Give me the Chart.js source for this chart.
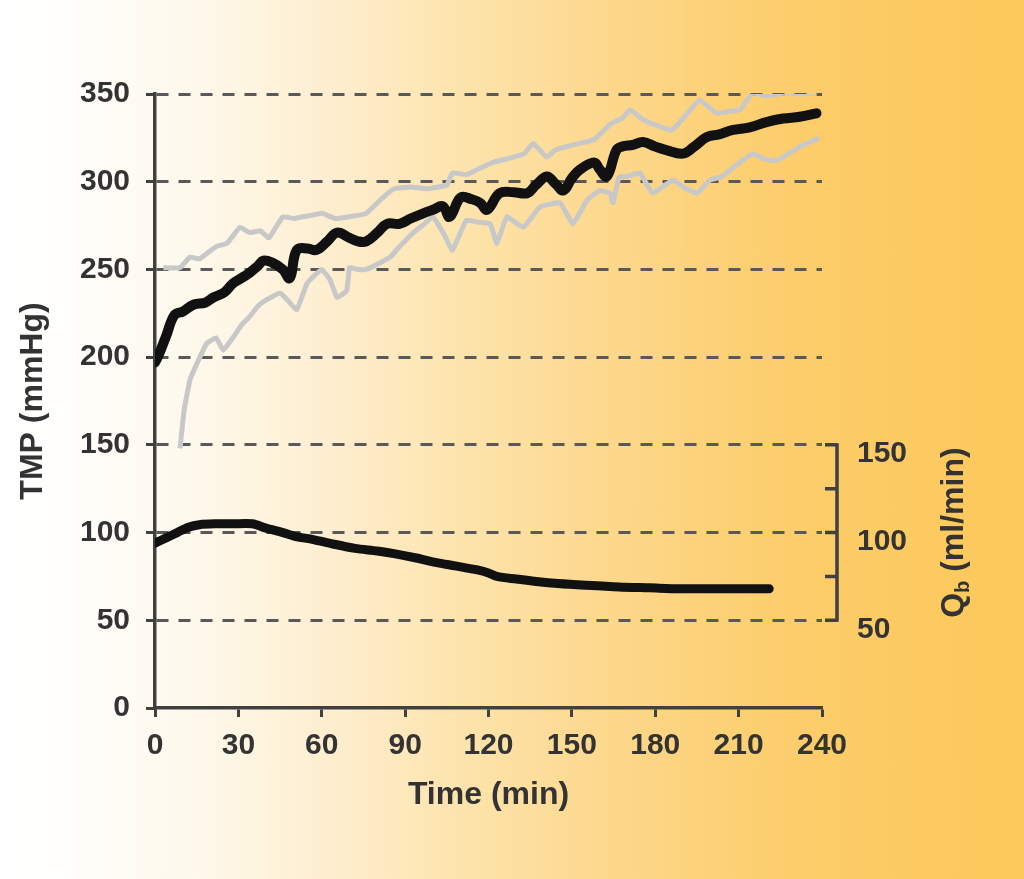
<!DOCTYPE html>
<html>
<head>
<meta charset="utf-8">
<script src="https://cdn.jsdelivr.net/npm/chart.js@4/dist/chart.umd.min.js"></script>
<style>
  html, body { margin: 0; padding: 0; }
  body {
    width: 1024px; height: 879px; overflow: hidden;
    background: linear-gradient(to right,
      #ffffff 0%, #fffefb 7%, #fef8ea 20%, #feefd2 31%, #fde4ad 45%,
      #fdd98f 58%, #fcce6e 75%, #fcca60 90%, #fbc85a 100%);
  }
  canvas { display: block; }
</style>
</head>
<body>
<canvas id="chart" width="1024" height="879"></canvas>
<script>
// Time axis (minutes) and TMP axis (mmHg)
const timeTicks = [0, 30, 60, 90, 120, 150, 180, 210, 240];
const tmpTicks = [0, 50, 100, 150, 200, 250, 300, 350];
// Blood flow axis Qb (ml/min), drawn on the right
const qbTickLabels = [50, 100, 150];
const qbMinorTicks = [50, 75, 100, 125, 150];

// Mean TMP
const tmpMeanTime = [0, 1, 4, 7, 10, 14, 18, 21, 25, 28, 31, 34, 37, 39, 42, 46, 48.5, 51, 55, 58,
  62, 65.5, 70, 73, 76, 80, 83.5, 88, 92, 96.5, 100, 103.6, 106, 110, 114, 117, 119.5, 124, 129, 134,
  137, 141, 144, 147, 150, 153, 158, 160, 162.6, 166, 168, 172, 175.6, 180, 184, 190, 194, 198.6, 203,
  208, 214, 220, 226, 232, 238];
const tmpMeanValue = [197, 200, 212, 224, 226, 230, 231, 234, 237, 242, 245, 248, 252, 255, 254, 250, 245, 261, 262, 261,
  266, 271, 268, 266, 266, 271, 276, 276, 279, 282, 284, 286, 280, 291, 290, 288, 284, 293.5, 294, 293.5,
  298, 303, 299, 295, 302, 307, 311, 307, 303, 318, 320, 321, 322.6, 320, 318, 316, 320, 325.5, 327,
  329.5, 331, 334, 336, 337, 339];

// Upper TMP envelope
const tmpUpperTime = [3, 9, 12.6, 16, 22, 26, 30.6, 34, 38, 41, 46, 50, 53, 57, 60, 65, 70, 76, 82, 86,
  92, 98, 105, 107, 112, 116, 121.6, 129, 133, 136, 141, 144, 148, 153, 158, 164, 168, 171, 175, 179,
  186, 191, 196, 202, 206, 210.5, 215, 220, 227, 232, 238];
const tmpUpperValue = [251, 251, 257, 256, 263, 265, 274, 271, 272, 268, 280, 279, 280, 281, 282, 279, 280, 282, 291, 296,
  297, 296, 298, 305, 304, 307, 311, 314, 316, 322, 314, 318, 320, 322, 324, 333, 336, 341, 336, 333,
  329.5, 338, 346.6, 339, 340, 341, 350.5, 349, 350.5, 350, 350.5];

// Lower TMP envelope
const tmpLowerTime = [9, 10.5, 12.6, 15, 18.7, 22, 24.5, 28, 31, 34, 37, 40, 45, 48, 51, 54.7, 57, 60, 63, 65.5,
  69, 70, 73, 76, 80, 84.6, 88, 93, 97, 100, 104, 107, 112, 116, 120.6, 123, 126.6, 132.5, 138.5, 145.7,
  150.4, 155.5, 160, 163.7, 164.8, 167, 170, 174.5, 179, 186.4, 190, 195, 199.7, 204, 208, 215, 219, 223.8,
  228, 232, 239];
const tmpLowerValue = [148, 170, 187, 196, 208, 211, 204, 211, 218, 223, 229, 232.6, 236.5, 232, 227, 242, 246, 250, 244, 234,
  238, 251, 250, 250, 253, 257, 263, 271, 276, 280, 270, 261, 278, 277, 276, 265, 280, 274, 285.6, 288,
  276, 289.6, 295, 293.5, 288, 302.7, 303, 305, 293.5, 301, 297, 293.5, 301, 303, 308, 316, 313, 312,
  316, 320, 325];

// Blood flow Qb
const qbTime = [0, 4, 8, 12, 16, 22, 28, 35, 40, 46, 50, 57, 64, 72, 80, 86, 94, 101, 108, 116,
  120, 123, 130, 138, 145, 155, 167, 178, 189, 200, 210, 221];
const qbValue = [94, 97, 100, 103, 104.5, 105, 105, 105, 102.5, 100, 98, 96, 93.5, 91, 89.5, 88, 85.5, 83, 81, 78.7,
  77, 75, 73.5, 72, 71, 70, 69, 68.5, 68, 68, 68, 68];

const toPoints = (xs, ys) => xs.map((x, i) => ({ x, y: ys[i] }));

const FONT = "'Liberation Sans', Arial, Helvetica, sans-serif";
const TEXT = '#333333';
const AXIS = '#404040';
const tickFont = { family: FONT, size: 30, weight: 'bold' };
const titleFont = { family: FONT, size: 32, weight: 'bold' };

// Right-hand Qb axis: partial axis line with inward ticks and a rotated title with subscript
const qbAxisPlugin = {
  id: 'qbAxis',
  afterDraw(chart) {
    const { ctx, chartArea } = chart;
    const y2 = chart.scales.y2;
    const ax = chartArea.right + 15;
    const top = y2.getPixelForValue(qbMinorTicks[qbMinorTicks.length - 1]);
    const bottom = y2.getPixelForValue(qbMinorTicks[0]);
    ctx.save();
    ctx.strokeStyle = AXIS;
    ctx.lineWidth = 3.5;
    ctx.lineCap = 'butt';
    ctx.beginPath();
    ctx.moveTo(ax, top - 1.5);
    ctx.lineTo(ax, bottom + 1.5);
    qbMinorTicks.forEach(v => {
      const py = y2.getPixelForValue(v);
      ctx.moveTo(ax - 12, py);
      ctx.lineTo(ax, py);
    });
    ctx.stroke();

    // axis title: Q_b (ml/min), reading bottom to top
    const cx = 954;
    const cy = (top + bottom) / 2;
    ctx.translate(cx, cy);
    ctx.rotate(-Math.PI / 2);
    ctx.fillStyle = TEXT;
    ctx.textBaseline = 'middle';
    ctx.textAlign = 'left';
    const big = 'bold 32px ' + FONT;
    const small = 'bold 20px ' + FONT;
    ctx.font = big;
    const wQ = ctx.measureText('Q').width;
    const wRest = ctx.measureText(' (ml/min)').width;
    ctx.font = small;
    const wb = ctx.measureText('b').width;
    let x = -(wQ + wb + wRest) / 2;
    ctx.font = big;
    ctx.fillText('Q', x, 0);
    x += wQ;
    ctx.font = small;
    ctx.fillText('b', x, 9);
    x += wb;
    ctx.font = big;
    ctx.fillText(' (ml/min)', x, 0);
    ctx.restore();
  }
};

new Chart(document.getElementById('chart'), {
  type: 'line',
  data: {
    datasets: [
      {
        label: 'TMP',
        data: toPoints(tmpMeanTime, tmpMeanValue),
        borderColor: '#111111',
        borderWidth: 10,
        tension: 0.4,
        pointRadius: 0,
        borderJoinStyle: 'round',
        borderCapStyle: 'round',
        yAxisID: 'y',
        order: 0
      },
      {
        label: 'Qb',
        data: toPoints(qbTime, qbValue),
        borderColor: '#111111',
        borderWidth: 9,
        tension: 0.3,
        pointRadius: 0,
        borderJoinStyle: 'round',
        borderCapStyle: 'round',
        yAxisID: 'y2',
        order: 0
      },
      {
        label: 'TMP upper',
        data: toPoints(tmpUpperTime, tmpUpperValue),
        borderColor: '#c8c8c8',
        borderWidth: 5,
        tension: 0.1,
        pointRadius: 0,
        borderJoinStyle: 'round',
        yAxisID: 'y',
        order: 1
      },
      {
        label: 'TMP lower',
        data: toPoints(tmpLowerTime, tmpLowerValue),
        borderColor: '#c8c8c8',
        borderWidth: 5,
        tension: 0.1,
        pointRadius: 0,
        borderJoinStyle: 'round',
        yAxisID: 'y',
        order: 1
      }
    ]
  },
  options: {
    responsive: false,
    animation: false,
    layout: { padding: { top: 94, right: 0, bottom: 0, left: 0 } },
    plugins: { legend: { display: false }, tooltip: { enabled: false } },
    scales: {
      x: {
        type: 'linear',
        min: timeTicks[0],
        max: timeTicks[timeTicks.length - 1],
        afterBuildTicks: s => { s.ticks = timeTicks.map(v => ({ value: v })); },
        afterFit: s => { s.height = 171; },
        grid: {
          drawOnChartArea: false, drawTicks: true,
          tickLength: 9, tickWidth: 3, tickColor: AXIS, tickBorderDash: []
        },
        border: { color: AXIS, width: 3.5 },
        ticks: { font: tickFont, color: TEXT, padding: 11, maxRotation: 0, autoSkip: false },
        title: {
          display: true, text: 'Time (min)', color: TEXT,
          font: titleFont, padding: { top: 0, bottom: 65 }
        }
      },
      y: {
        type: 'linear',
        position: 'left',
        min: tmpTicks[0],
        max: tmpTicks[tmpTicks.length - 1],
        afterBuildTicks: s => { s.ticks = tmpTicks.map(v => ({ value: v })); },
        afterFit: s => { s.width = 155; },
        grid: {
          color: c => (c.tick && c.tick.value === 0 ? 'rgba(0,0,0,0)' : '#595959'),
          lineWidth: 3,
          drawTicks: true, tickLength: 9, tickWidth: 3, tickColor: AXIS, tickBorderDash: []
        },
        border: { color: AXIS, width: 3.5, dash: [12, 10] },
        ticks: { font: tickFont, color: TEXT, padding: 16 },
        title: {
          display: true, text: 'TMP (mmHg)', color: TEXT,
          font: titleFont, padding: { top: 14, bottom: 0 }
        }
      },
      y2: {
        type: 'linear',
        position: 'right',
        min: tmpTicks[0],
        max: tmpTicks[tmpTicks.length - 1],
        afterBuildTicks: s => { s.ticks = qbTickLabels.map(v => ({ value: v })); },
        afterFit: s => { s.width = 202; },
        grid: { drawOnChartArea: false, drawTicks: false },
        border: { display: false },
        ticks: { font: tickFont, color: TEXT, padding: 35, labelOffset: 9 }
      }
    }
  },
  plugins: [qbAxisPlugin]
});
</script>
</body>
</html>
